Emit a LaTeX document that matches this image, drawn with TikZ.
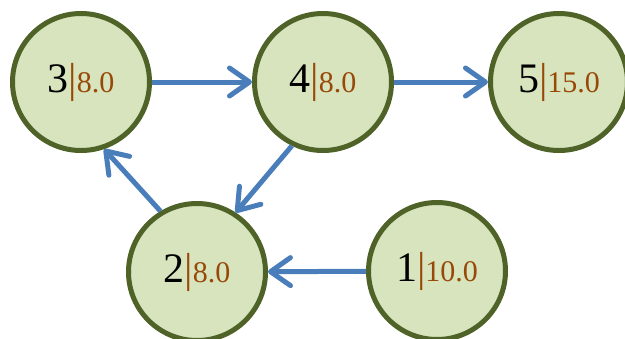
\documentclass[tikz,border=0pt]{standalone}
\usepackage{fontspec}
\setmainfont{Liberation Serif}
\usetikzlibrary{arrows.meta}
\definecolor{nodefill}{HTML}{D7E4BD}
\definecolor{nodeline}{HTML}{4F6228}
\definecolor{arrowblue}{HTML}{4A7EBB}
\definecolor{valbrown}{HTML}{984807}
\newcommand{\lab}[2]{\fontsize{42}{46}\selectfont #1\textcolor{valbrown}{|\fontsize{30}{34}\selectfont #2}}
\begin{document}
\begin{tikzpicture}[x=1pt,y=-1pt,
  vert/.style={circle, draw=nodeline, fill=nodefill, line width=5pt, minimum size=137pt, inner sep=0pt},
  edge/.style={draw=arrowblue, line width=5pt, -{Straight Barb[length=20pt,width=28pt,round]}}]
\useasboundingbox (0,0) rectangle (625,338);
\node[vert] (n3) at (81,82) {\lab{3}{8.0}};
\node[vert] (n4) at (323,82) {\lab{4}{8.0}};
\node[vert] (n5) at (559,82) {\lab{5}{15.0}};
\node[vert] (n2) at (197,272) {\lab{2}{8.0}};
\node[vert] (n1) at (437,271) {\lab{1}{10.0}};
\draw[edge] (n3) -- (n4);
\draw[edge] (n4) -- (n5);
\draw[edge] (n1) -- (n2);
\draw[edge] (n4.244) -- (n2.57);
\draw[edge] (n2.121) -- (n3.289);
\end{tikzpicture}
\end{document}
